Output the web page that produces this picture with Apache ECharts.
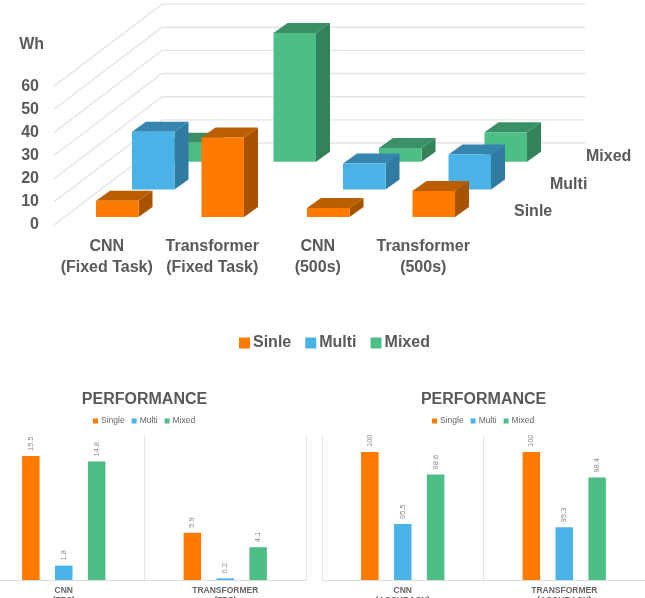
<!DOCTYPE html>
<html>
<head>
<meta charset="utf-8">
<style>html,body{margin:0;padding:0;background:#fff}#chart{width:645px;height:598px}</style>
<script src="https://cdn.jsdelivr.net/npm/echarts@6/dist/echarts.min.js"></script>
</head>
<body>
<div id="chart"></div>
<script>
// Energy use (Wh) per model and workload
const energyCategories = ['CNN\n(Fixed Task)', 'Transformer\n(Fixed Task)', 'CNN\n(500s)', 'Transformer\n(500s)'];
const energySingle = [7.0, 34.3, 3.9, 11.2];
const energyMulti = [24.9, 0, 11.2, 15.1];
const energyMixed = [8.2, 55.6, 6.0, 12.8];
const energyTicks = [0, 10, 20, 30, 40, 50, 60];

// Performance panels
const fpsCategories = ['CNN\n(FPS)', 'TRANSFORMER\n(FPS)'];
const fpsSingle = [15.5, 5.9];
const fpsMulti = [1.8, 0.2];
const fpsMixed = [14.8, 4.1];

const accCategories = ['CNN\n(ACCURACY)', 'TRANSFORMER\n(ACCURACY)'];
const accSingle = [100, 100];
const accMulti = [95.5, 95.3];
const accMixed = [98.6, 98.4];

const depthLabels = ['Sinle', 'Multi', 'Mixed'];

const FONT = '"Liberation Sans", Arial, sans-serif';
const TEXT = '#595959';
const ORANGE = { front: '#FF7B00', side: '#A85300', top: '#BC5E00' };
const BLUE = { front: '#49B3E8', side: '#2F7BA1', top: '#3585AE' };
const GREEN = { front: '#4EBE87', side: '#33825C', top: '#398F66' };

// Oblique projection of the floor: each depth row shifts the bars up and to the right.
const ROW_DX = 36, ROW_DY = -27.6;
const FLOOR_DX = 10.5, FLOOR_DY = -8;
const BOX_W = 42.5, BOX_DX = 14, BOX_DY = -10;
const WALL_DX = 108, WALL_DY = -82, WALL_RIGHT = 585;

function boxRenderer(row, pal) {
  return function (params, api) {
    const v = api.value(1);
    if (!v) return null;
    const base = api.coord([api.value(0), 0]);
    const tip = api.coord([api.value(0), v]);
    const x0 = base[0] + FLOOR_DX + ROW_DX * row - BOX_W / 2;
    const x1 = x0 + BOX_W;
    const yB = base[1] + FLOOR_DY + ROW_DY * row;
    const yT = tip[1] + FLOOR_DY + ROW_DY * row;
    const poly = (pts, fill) => ({ type: 'polygon', shape: { points: pts }, style: { fill: fill } });
    return {
      type: 'group',
      children: [
        poly([[x1, yB], [x1 + BOX_DX, yB + BOX_DY], [x1 + BOX_DX, yT + BOX_DY], [x1, yT]], pal.side),
        poly([[x0, yT], [x1, yT], [x1 + BOX_DX, yT + BOX_DY], [x0 + BOX_DX, yT + BOX_DY]], pal.top),
        poly([[x0, yB], [x1, yB], [x1, yT], [x0, yT]], pal.front)
      ]
    };
  };
}

function wallRenderer(params, api) {
  const y = api.coord([0, api.value(0)])[1];
  const x = params.coordSys.x;
  return {
    type: 'polyline',
    shape: { points: [[x, y], [x + WALL_DX, y + WALL_DY], [WALL_RIGHT, y + WALL_DY]] },
    style: { stroke: '#E4E4E4', fill: null, lineWidth: 1.4 }
  };
}

function depthLabelRenderer(params, api) {
  const row = params.dataIndex;
  const c = params.coordSys;
  const y0 = api.coord([0, 0])[1];
  return {
    type: 'text',
    style: {
      x: c.x + c.width + FLOOR_DX + 27.5 + ROW_DX * row,
      y: y0 + FLOOR_DY + ROW_DY * row - 5,
      text: depthLabels[row],
      fill: TEXT,
      font: 'bold 16px ' + FONT,
      textAlign: 'left',
      textVerticalAlign: 'middle'
    }
  };
}

const pairs = arr => arr.map((v, i) => [i, v]);

function box3d(name, values, row, pal) {
  return {
    name: name, type: 'custom', xAxisIndex: 0, yAxisIndex: 0, z: 5 + (2 - row),
    itemStyle: { color: pal.front },
    renderItem: boxRenderer(row, pal),
    data: pairs(values),
    silent: true
  };
}

function flatBars(axis, name, values, color) {
  return {
    name: name, type: 'bar', xAxisIndex: axis, yAxisIndex: axis,
    barWidth: 17.5, barGap: '88%',
    itemStyle: { color: color },
    label: {
      show: true, position: 'top', rotate: 90, distance: 5,
      color: '#8A8A8A', fontSize: 7.5, fontFamily: FONT,
      align: 'left', verticalAlign: 'middle'
    },
    data: values
  };
}

const panelXAxis = (grid, cats) => ({
  type: 'category', gridIndex: grid, data: cats,
  axisTick: { show: false },
  axisLine: { lineStyle: { color: '#DEDEDE', width: 1 } },
  splitLine: { show: true, lineStyle: { color: '#E6E6E6', width: 1 } },
  axisLabel: { color: '#666666', fontSize: 8.5, fontWeight: 'bold', fontFamily: FONT, lineHeight: 10, margin: 6, interval: 0 }
});

const panelYAxis = (grid, min, max) => ({
  type: 'value', gridIndex: grid, min: min, max: max, show: false, splitLine: { show: false }
});

const panelTitle = (x, text) => ({
  text: text, left: x, top: 387, textAlign: 'center',
  textStyle: { color: TEXT, fontSize: 16, fontWeight: 'bold', fontFamily: FONT }
});

const panelLegend = x => ({
  left: x, top: 411.5, icon: 'rect', itemWidth: 5, itemHeight: 5, itemGap: 7,
  data: ['Single', 'Multi', 'Mixed'],
  selectedMode: false,
  textStyle: { color: '#666666', fontSize: 8.5, fontFamily: FONT, padding: [0, 0, 0, -2] }
});

const option = {
  backgroundColor: '#ffffff',
  animation: false,
  title: [panelTitle(139.5, 'PERFORMANCE'), panelTitle(478.6, 'PERFORMANCE')],
  legend: [
    {
      left: 234, top: 330, icon: 'rect', itemWidth: 11, itemHeight: 11, itemGap: 14,
      data: ['Sinle', 'Multi', 'Mixed'],
      selectedMode: false,
      textStyle: { color: TEXT, fontSize: 16, fontWeight: 'bold', fontFamily: FONT, padding: [0, 0, 0, -2] }
    },
    panelLegend(88),
    panelLegend(427)
  ],
  grid: [
    { left: 54, top: 86.1, width: 422, height: 138.9, outerBoundsMode: 'none' },
    { left: -17, top: 436, width: 323, height: 144, outerBoundsMode: 'none' },
    { left: 322, top: 436, width: 323, height: 144, outerBoundsMode: 'none' }
  ],
  xAxis: [
    {
      type: 'category', gridIndex: 0, data: energyCategories,
      axisLine: { show: false }, axisTick: { show: false },
      axisLabel: { color: TEXT, fontSize: 16, fontWeight: 'bold', fontFamily: FONT, lineHeight: 21, margin: 11, interval: 0 }
    },
    panelXAxis(1, fpsCategories),
    panelXAxis(2, accCategories)
  ],
  yAxis: [
    {
      type: 'value', gridIndex: 0, min: 0, max: 60, interval: 10,
      name: 'Wh', nameLocation: 'end', nameGap: 34,
      nameTextStyle: { color: TEXT, fontSize: 16, fontWeight: 'bold', fontFamily: FONT, align: 'right', padding: [0, 10, 0, 0] },
      axisLine: { show: false }, axisTick: { show: false }, splitLine: { show: false },
      axisLabel: { color: TEXT, fontSize: 16, fontWeight: 'bold', fontFamily: FONT, margin: 15, padding: [2, 0, 0, 0] }
    },
    panelYAxis(1, 0, 18),
    panelYAxis(2, 92, 101)
  ],
  series: [
    {
      type: 'custom', name: 'walls', xAxisIndex: 0, yAxisIndex: 0, z: 1, silent: true,
      renderItem: wallRenderer, data: energyTicks.map(v => [v]),
      encode: { y: 0 }
    },
    box3d('Mixed', energyMixed, 2, GREEN),
    box3d('Multi', energyMulti, 1, BLUE),
    box3d('Sinle', energySingle, 0, ORANGE),
    {
      type: 'custom', name: 'rows', xAxisIndex: 0, yAxisIndex: 0, z: 8, silent: true,
      renderItem: depthLabelRenderer, data: depthLabels.map((d, i) => [i, 0])
    },
    flatBars(1, 'Single', fpsSingle, ORANGE.front),
    flatBars(1, 'Multi', fpsMulti, BLUE.front),
    flatBars(1, 'Mixed', fpsMixed, GREEN.front),
    flatBars(2, 'Single', accSingle, ORANGE.front),
    flatBars(2, 'Multi', accMulti, BLUE.front),
    flatBars(2, 'Mixed', accMixed, GREEN.front)
  ]
};

const chart = echarts.init(document.getElementById('chart'), null, { renderer: 'canvas' });
chart.setOption(option);
</script>
</body>
</html>
